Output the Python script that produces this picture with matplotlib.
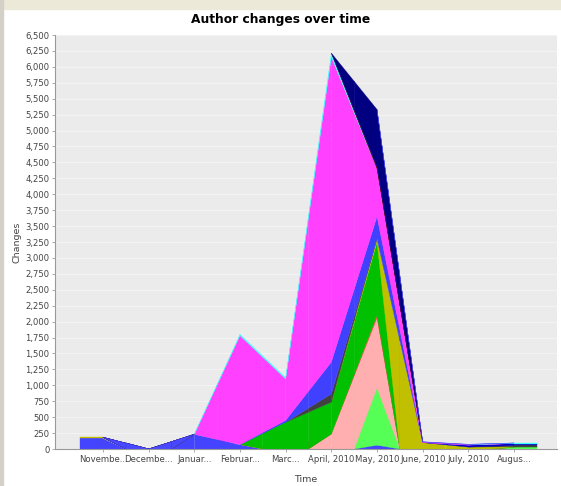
import matplotlib
matplotlib.use('Agg')
import matplotlib.pyplot as plt
from matplotlib.patches import Rectangle

# ── Data (bottom series first, as the chart stacks them) ───────────────
months = ['Novembe...', 'Decembe...', 'Januar...', 'Februar...', 'Marc...',
          'April, 2010', 'May, 2010', 'June, 2010', 'July, 2010', 'Augus...']

series_colors = ['#4444FF', '#55FF55', '#FFAFAF', '#FF4040', '#00C000',
                 '#C0C000', '#404040', '#4040FF', '#0000C0', '#FF40FF',
                 '#40FFFF', '#800000', '#000080', '#4848FF']

blue_a = [170, 0, 230, 70, 0, 0, 60, 0, 0, 0]
light_green = [0, 0, 0, 0, 0, 0, 900, 0, 0, 25]
pink = [0, 0, 0, 0, 0, 235, 1100, 0, 0, 0]
red = [0, 0, 0, 0, 0, 0, 40, 0, 0, 0]
dark_green = [0, 0, 0, 0, 420, 500, 1150, 0, 0, 10]
olive = [15, 0, 0, 0, 0, 0, 50, 100, 30, 0]
dark_gray = [0, 0, 0, 0, 0, 130, 0, 0, 0, 20]
blue_b = [0, 0, 0, 0, 30, 500, 350, 0, 0, 0]
dark_blue = [0, 0, 0, 0, 0, 0, 0, 0, 30, 30]
magenta = [0, 0, 0, 1710, 650, 4790, 750, 10, 10, 0]
cyan = [0, 0, 0, 20, 20, 60, 0, 0, 0, 10]
dark_red = [0, 0, 0, 0, 0, 0, 30, 0, 0, 0]
navy = [0, 0, 0, 0, 0, 0, 900, 0, 0, 0]
blue_c = [0, 0, 0, 0, 0, 0, 0, 5, 5, 0]

series = [blue_a, light_green, pink, red, dark_green, olive, dark_gray,
          blue_b, dark_blue, magenta, cyan, dark_red, navy, blue_c]

y_ticks = list(range(0, 6501, 250))

TXT = '#444444'
PLOT_BG = '#EBEBEB'


def stack_below(row, col):
    return sum(max(series[i][col], 0) for i in range(row))


def adjusted(a, b):
    return 0.0 if a == 0 or b == 0 else (a + b) / 2.0


def area(xs, ys):
    s = 0.0
    for i in range(len(xs)):
        j = (i + 1) % len(xs)
        s += xs[i] * ys[j] - xs[j] * ys[i]
    return abs(s) / 2


fig = plt.figure(figsize=(5.61, 4.86), dpi=100)
fig.set_facecolor('white')
# screenshot frame
fig.patches.append(Rectangle((0, 1 - 9 / 486), 1, 9 / 486, transform=fig.transFigure,
                             color='#ECE9D8', zorder=0))
fig.patches.append(Rectangle((0, 0), 3 / 561, 1, transform=fig.transFigure,
                             color='#D4D0C8', zorder=0))

ax = fig.add_axes([55 / 561, 37 / 486, 502 / 561, 414 / 486])
ax.set_facecolor(PLOT_BG)

n = len(months)
z = 2
# stacked-area drawing: each category cell split into left/right halves
for row, vals in enumerate(series):
    c = series_colors[row]
    for col in range(n):
        y1 = vals[col]
        s1 = stack_below(row, col)
        cp, cn = max(col - 1, 0), min(col + 1, n - 1)
        y0, s0 = vals[cp], stack_below(row, cp)
        y2, s2 = vals[cn], stack_below(row, cn)
        xl, xm, xr = col - 0.5, col, col + 0.5
        polys = [
            ([xm, xm, xl, xl],
             [y1 + s1, s1, adjusted(s0, s1), (y0 + y1) / 2 + (s0 + s1) / 2]),
            ([xm, xm, xr, xr],
             [s1, y1 + s1, (y1 + y2) / 2 + (s1 + s2) / 2, adjusted(s1, s2)]),
        ]
        for xs, ys in polys:
            if area(xs, ys) < 1e-6:
                continue
            ax.fill(xs, ys, facecolor=c, edgecolor=c, lw=0.25, zorder=z)
        z += 0.001

ax.set_xlim(-1.05, 9.94)
ax.set_ylim(0, 6500)
ax.set_yticks(y_ticks)
ax.set_yticklabels([f'{v:,}' for v in y_ticks])
ax.set_xticks(range(n))
ax.set_xticklabels(months)
ax.tick_params(axis='both', colors='#888888', labelcolor=TXT, labelsize=6.1,
               length=2, width=0.5, pad=2)
ax.grid(axis='y', color='white', lw=0.5, alpha=0.6, zorder=1)
for s in ax.spines.values():
    s.set_visible(False)
ax.spines['left'].set_visible(True)
ax.spines['left'].set_color('#999999')
ax.spines['bottom'].set_visible(True)
ax.spines['bottom'].set_color('#999999')
ax.set_axisbelow(True)

ax.set_xlabel('Time', fontsize=6.8, color=TXT, labelpad=8)
ax.set_ylabel('Changes', fontsize=6.8, color=TXT, labelpad=3)
fig.text(0.5, 1 - 19 / 486, 'Author changes over time', ha='center', va='center',
         fontsize=8.8, fontweight='bold', color='black')

fig.savefig('out.png', dpi=100, facecolor=fig.get_facecolor())
